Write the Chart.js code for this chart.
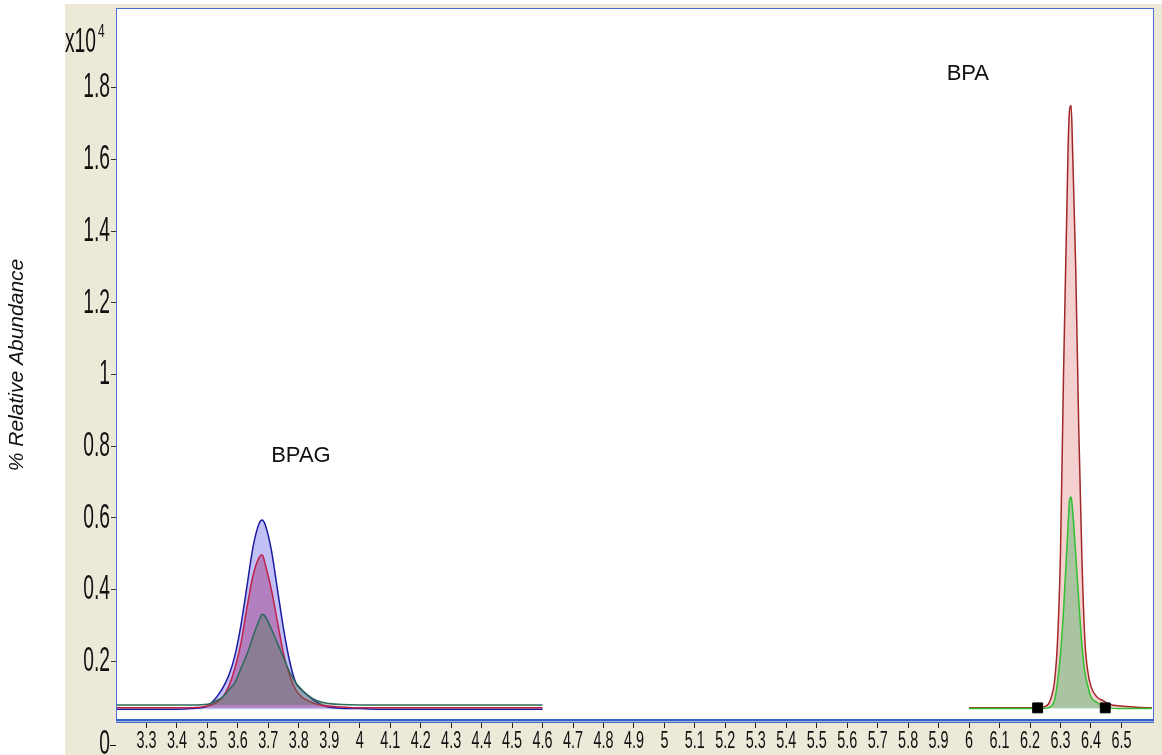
<!DOCTYPE html>
<html>
<head>
<meta charset="utf-8">
<script src="https://cdn.jsdelivr.net/npm/chart.js@4.4.1/dist/chart.umd.min.js"></script>
<style>
  html, body { margin: 0; padding: 0; background: #fff; }
  #wrap { width: 1162px; height: 755px; position: relative; }
</style>
</head>
<body>
<div id="wrap"><canvas id="cromatograma"></canvas></div>
<script>
// tiempos de retencion (min) y abundancias (x10^4)
const bpagTime  = [3.20, 3.30, 3.40, 3.45, 3.50, 3.53, 3.55, 3.57, 3.59, 3.61, 3.63, 3.65, 3.67, 3.68, 3.69, 3.71, 3.73, 3.75, 3.77, 3.79, 3.81, 3.83, 3.86, 3.90, 4.00, 4.10, 4.20, 4.30, 4.40, 4.50, 4.60];
const bpagBlue  = [0.066, 0.066, 0.066, 0.068, 0.075, 0.10, 0.125, 0.16, 0.215, 0.30, 0.41, 0.52, 0.585, 0.594, 0.58, 0.51, 0.40, 0.29, 0.20, 0.14, 0.12, 0.105, 0.085, 0.072, 0.068, 0.066, 0.066, 0.066, 0.066, 0.066, 0.066];
const bpagRed   = [0.07, 0.07, 0.07, 0.07, 0.075, 0.085, 0.10, 0.13, 0.18, 0.25, 0.35, 0.44, 0.49, 0.497, 0.47, 0.40, 0.31, 0.22, 0.16, 0.12, 0.10, 0.09, 0.08, 0.075, 0.07, 0.07, 0.07, 0.07, 0.07, 0.07, 0.07];
const bpagGreen = [0.078, 0.078, 0.078, 0.078, 0.08, 0.09, 0.10, 0.12, 0.14, 0.18, 0.22, 0.27, 0.315, 0.331, 0.325, 0.29, 0.25, 0.21, 0.17, 0.14, 0.12, 0.105, 0.09, 0.082, 0.078, 0.078, 0.078, 0.078, 0.078, 0.078, 0.078];

const bpaTime  = [6.00, 6.05, 6.10, 6.15, 6.20, 6.24, 6.26, 6.27, 6.28, 6.29, 6.30, 6.31, 6.32, 6.325, 6.33, 6.335, 6.34, 6.35, 6.36, 6.37, 6.38, 6.39, 6.40, 6.42, 6.44, 6.46, 6.50, 6.55, 6.60];
const bpaRed   = [0.07, 0.07, 0.07, 0.07, 0.07, 0.072, 0.08, 0.10, 0.14, 0.25, 0.50, 1.00, 1.42, 1.63, 1.74, 1.75, 1.62, 1.30, 0.85, 0.50, 0.26, 0.17, 0.13, 0.10, 0.09, 0.08, 0.075, 0.072, 0.07];
const bpaGreen = [0.068, 0.068, 0.068, 0.068, 0.068, 0.068, 0.07, 0.075, 0.09, 0.14, 0.22, 0.34, 0.50, 0.58, 0.65, 0.658, 0.62, 0.50, 0.37, 0.25, 0.17, 0.13, 0.10, 0.085, 0.075, 0.07, 0.068, 0.068, 0.068];

// marcas de integracion
const bpaMarkTime  = [6.225, 6.447];
const bpaMarkLevel = [0.07, 0.07];

// etiquetas de los picos
const peakNames = ['BPAG', 'BPA'];
const peakTime  = [3.807, 5.996];
const peakLevel = [0.772, 1.839];

const xTicks = [3.3, 3.4, 3.5, 3.6, 3.7, 3.8, 3.9, 4.0, 4.1, 4.2, 4.3, 4.4, 4.5, 4.6, 4.7, 4.8, 4.9, 5.0, 5.1, 5.2, 5.3, 5.4, 5.5, 5.6, 5.7, 5.8, 5.9, 6.0, 6.1, 6.2, 6.3, 6.4, 6.5];
const yTicks = [0.2, 0.4, 0.6, 0.8, 1.0, 1.2, 1.4, 1.6, 1.8];

const pares = (t, v) => t.map((x, i) => ({ x: x, y: v[i] }));
const sans = '"Liberation Sans", Arial, sans-serif';

// los numeros del eje salen altos y estrechos: se estira el texto segun el tamaño
const estirar = { '20px': [0.72, 1.2], '26px': [0.74, 1.38], '15px': [0.8, 1.2] };
const textoEstrecho = {
    id: 'textoEstrecho',
    beforeInit(chart) {
        const c = chart.ctx;
        const orig = c.fillText;
        c.fillText = function(text, x, y, maxWidth) {
            const m = /(\d+)px/.exec(this.font);
            const f = m && estirar[m[1] + 'px'];
            if (!f || this.font.indexOf('italic') >= 0) {
                return maxWidth === undefined ? orig.call(this, text, x, y) : orig.call(this, text, x, y, maxWidth);
            }
            this.save();
            this.translate(x, y);
            this.scale(f[0], f[1]);
            orig.call(this, text, 0, 0);
            this.restore();
        };
    }
};

// fondo beige, marco azul y textos sueltos
const marco = {
    id: 'marco',
    beforeDraw(chart) {
        const ctx = chart.ctx, a = chart.chartArea;
        ctx.save();
        ctx.fillStyle = '#ffffff';
        ctx.fillRect(0, 0, chart.width, chart.height);
        ctx.fillStyle = '#ECE9D8';
        ctx.fillRect(65, 4, chart.width - 65, chart.height - 4);
        ctx.fillStyle = '#ffffff';
        ctx.fillRect(a.left, a.top, a.right - a.left, a.bottom - a.top);
        ctx.restore();
    },
    afterDraw(chart) {
        const ctx = chart.ctx, a = chart.chartArea;
        const xs = chart.scales.x, ys = chart.scales.y;
        ctx.save();
        ctx.strokeStyle = '#4a6fd0';
        ctx.lineWidth = 1;
        ctx.strokeRect(a.left + 0.5, a.top + 0.5, a.right - a.left - 1, a.bottom - a.top);
        ctx.fillStyle = '#3562c4';
        ctx.fillRect(a.left, a.bottom - 3, a.right - a.left, 2);
        ctx.fillStyle = '#9db3e0';
        ctx.fillRect(a.left, a.bottom - 1, a.right - a.left, 1);

        ctx.fillStyle = '#111';
        ctx.textBaseline = 'middle';
        ctx.textAlign = 'right';
        ctx.font = '26px ' + sans;
        ctx.fillText('x10', 96, 42);
        ctx.fillText('0', 110, 744);
        ctx.font = '15px ' + sans;
        ctx.textAlign = 'left';
        ctx.fillText('4', 98, 32);
        ctx.fillRect(110, 745, 6, 1);

        ctx.font = '22px ' + sans;
        ctx.textAlign = 'center';
        peakNames.forEach((n, i) => {
            ctx.fillText(n, xs.getPixelForValue(peakTime[i]), ys.getPixelForValue(peakLevel[i]));
        });
        ctx.restore();
    }
};

const ctx = document.getElementById('cromatograma').getContext('2d');
new Chart(ctx, {
    type: 'line',
    data: {
        datasets: [
            {
                label: 'BPAG 3',
                data: pares(bpagTime, bpagGreen),
                borderColor: '#2d6a5a',
                backgroundColor: 'rgba(77,120,88,0.4)',
                fill: { value: 0.078 },
                borderWidth: 1.5,
                order: 1
            },
            {
                label: 'BPAG 2',
                data: pares(bpagTime, bpagRed),
                borderColor: '#c0204a',
                backgroundColor: 'rgba(155,30,107,0.4)',
                fill: { value: 0.07 },
                borderWidth: 1.5,
                order: 2
            },
            {
                label: 'BPAG 1',
                data: pares(bpagTime, bpagBlue),
                borderColor: '#1c1ca0',
                backgroundColor: 'rgba(100,100,230,0.4)',
                fill: { value: 0.066 },
                borderWidth: 1.5,
                order: 3
            },
            {
                label: 'BPA 2',
                data: pares(bpaTime, bpaGreen),
                borderColor: '#30c030',
                backgroundColor: 'rgba(96,182,112,0.5)',
                fill: { value: 0.068 },
                borderWidth: 1.5,
                order: 4
            },
            {
                label: 'BPA 1',
                data: pares(bpaTime, bpaRed),
                borderColor: '#a02828',
                backgroundColor: 'rgba(220,100,100,0.3)',
                fill: { value: 0.07 },
                borderWidth: 1.5,
                order: 5
            },
            {
                label: 'marcas',
                data: pares(bpaMarkTime, bpaMarkLevel),
                showLine: false,
                pointStyle: 'rect',
                pointRadius: 7,
                pointBackgroundColor: '#000',
                pointBorderColor: '#000',
                order: 0
            }
        ]
    },
    options: {
        responsive: true,
        maintainAspectRatio: false,
        animation: false,
        layout: { padding: { left: 0, top: 6, right: 3, bottom: 0 } },
        elements: {
            point: { radius: 0 },
            line: { cubicInterpolationMode: 'monotone' }
        },
        plugins: {
            legend: { display: false },
            tooltip: { enabled: false }
        },
        scales: {
            x: {
                type: 'linear',
                min: 3.2,
                max: 6.607,
                afterBuildTicks: scale => { scale.ticks = xTicks.map(v => ({ value: v })); },
                afterFit: scale => {
                    scale.height = 33;
                    scale.paddingLeft = 0;
                    scale.paddingRight = 0;
                },
                border: { display: false },
                grid: { drawOnChartArea: false, drawTicks: true, tickLength: 6, color: '#222' },
                ticks: {
                    maxRotation: 0,
                    autoSkip: false,
                    padding: 1,
                    color: '#111',
                    font: { family: sans, size: 20 },
                    callback: v => String(Math.round(v * 10) / 10)
                }
            },
            y: {
                min: 0.0306,
                max: 2.022,
                afterBuildTicks: scale => { scale.ticks = yTicks.map(v => ({ value: v })); },
                afterFit: scale => {
                    scale.width = 116;
                    scale.paddingTop = 0;
                    scale.paddingBottom = 0;
                },
                border: { display: false },
                grid: { drawOnChartArea: false, drawTicks: true, tickLength: 5, color: '#333' },
                ticks: {
                    padding: 1,
                    color: '#111',
                    font: { family: sans, size: 26 },
                    callback: v => String(Math.round(v * 10) / 10)
                },
                title: {
                    display: true,
                    text: '% Relative Abundance',
                    color: '#111',
                    font: { family: sans, size: 21, style: 'italic' },
                    padding: { top: 5, bottom: 0 }
                }
            }
        }
    },
    plugins: [textoEstrecho, marco]
});
</script>
</body>
</html>
